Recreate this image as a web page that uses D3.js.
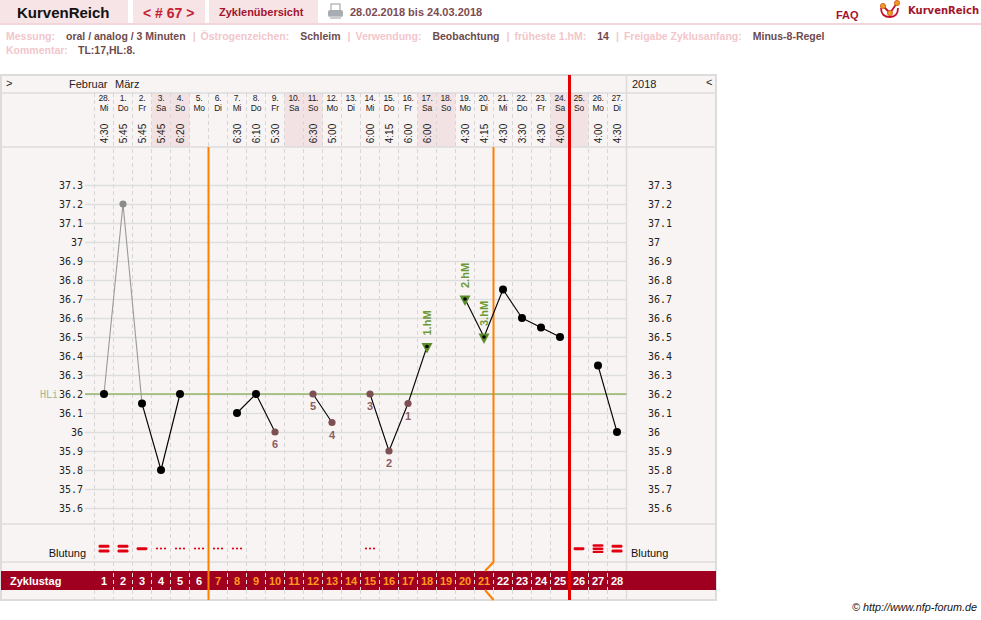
<!DOCTYPE html>
<html>
<head>
<meta charset="utf-8">
<script src="https://cdn.jsdelivr.net/npm/d3@7"></script>
<style>
body { margin: 0; background: #fff; }
svg { display: block; font-family: "Liberation Sans", Arial, sans-serif; }
</style>
</head>
<body>
<div class="kurve"></div>
<script>
// Zyklustage und Kopfzeilen
const cycleDays = [1,2,3,4,5,6,7,8,9,10,11,12,13,14,15,16,17,18,19,20,21,22,23,24,25,26,27,28];
const dates = ["28.","1.","2.","3.","4.","5.","6.","7.","8.","9.","10.","11.","12.","13.","14.","15.","16.","17.","18.","19.","20.","21.","22.","23.","24.","25.","26.","27."];
const weekdays = ["Mi","Do","Fr","Sa","So","Mo","Di","Mi","Do","Fr","Sa","So","Mo","Di","Mi","Do","Fr","Sa","So","Mo","Di","Mi","Do","Fr","Sa","So","Mo","Di"];
const times = ["4:30","5:45","5:45","5:45","6:20","","","6:30","6:10","5:30","","6:30","5:00","","6:00","4:15","6:00","6:00","","4:30","4:15","4:30","3:30","4:30","4:00","","4:00","4:30"];
const monthNames = ["Februar", "März"];
const monthStartDay = [1, 2];

// Temperaturen (null = keine Messung)
const temps = [36.2, 37.2, 36.15, 35.8, 36.2, null, null, 36.1, 36.2, 36.0, null, 36.2, 36.05, null, 36.2, 35.9, 36.15, 36.45, null, 36.7, 36.5, 36.75, 36.6, 36.55, 36.5, null, 36.35, 36.0];
// n = normal, x = ausgeklammert, c = Tieflage gezaehlt, h = hohe Messung
const tempKind = ["n","x","n","n","n","","","n","n","c","","c","c","","c","c","c","h","","h","h","n","n","n","n","","n","n"];
const countLabels = ["","","","","","","","","","6","","5","4","","3","2","1","","","","","","","","","","",""];
const hmLabels = ["","","","","","","","","","","","","","","","","","1.hM","","2.hM","3.hM","","","","","","",""];
// Blutung: 1-3 = Staerke, s = Schmierblutung
const bleeding = ["2","2","1","s","s","s","s","s","","","","","","","s","","","","","","","","","","","1","3","2"];

const yTicks = [35.6,35.7,35.8,35.9,36.0,36.1,36.2,36.3,36.4,36.5,36.6,36.7,36.8,36.9,37.0,37.1,37.2,37.3];
const coverline = 36.2;
const fertileFrom = 7, fertileTo = 21, cycleEnd = 25;

const infoLabels = ["Messung:", "Östrogenzeichen:", "Verwendung:", "früheste 1.hM:", "Freigabe Zyklusanfang:"];
const infoValues = ["oral / analog / 3 Minuten", "Schleim", "Beobachtung", "14", "Minus-8-Regel"];

const width = 981, height = 620;
const fr = { left: 1, right: 716, top: 75, month: 93, head: 147, plot: 524, bleed: 562, bandTop: 571, bandBottom: 590, bottom: 600 };

const svg = d3.select("div.kurve")
    .append("svg")
    .attr("width", width)
    .attr("height", height);

// ---- Kopfbereich ----
const headCells = [[0, 128], [133, 205], [209, 318]];
svg.append("g").selectAll("rect")
    .data(headCells)
    .join("rect")
      .attr("x", d => d[0]).attr("y", 0)
      .attr("width", d => d[1] - d[0]).attr("height", 23)
      .attr("fill", "#f6e4e6");
svg.append("rect").attr("x", 0).attr("y", 23).attr("width", width).attr("height", 2).attr("fill", "#f3d6d9");

svg.append("text").attr("x", 17).attr("y", 18).text("KurvenReich")
    .style("font-size", "15px").style("font-weight", "bold").attr("fill", "#111");
svg.append("text").attr("x", 143).attr("y", 18).text("< # 67 >")
    .style("font-size", "14px").style("font-weight", "bold").attr("fill", "#c42231");
svg.append("text").attr("x", 219).attr("y", 16).text("Zyklenübersicht")
    .style("font-size", "11px").style("font-weight", "bold").attr("fill", "#a3142e");

// Drucker-Symbol
const pr = svg.append("g").attr("transform", "translate(328,4)");
pr.append("rect").attr("x", 3).attr("y", 0).attr("width", 9).attr("height", 7).attr("fill", "#fff").attr("stroke", "#999");
pr.append("rect").attr("x", 0).attr("y", 6).attr("width", 15).attr("height", 7).attr("rx", 2).attr("fill", "#a7adb3");
pr.append("rect").attr("x", 2).attr("y", 12).attr("width", 11).attr("height", 3).attr("fill", "#c9cdd1");
svg.append("text").attr("x", 350).attr("y", 16).text("28.02.2018 bis 24.03.2018")
    .style("font-size", "11px").style("font-weight", "bold").attr("fill", "#7d4b52");

svg.append("text").attr("x", 836).attr("y", 19).text("FAQ")
    .style("font-size", "11px").style("font-weight", "bold").attr("fill", "#a3142e");
// Logo
const logo = svg.append("g");
logo.append("path").attr("d", "M881,8 Q881,17 890,17 Q898,17 898,8").attr("fill", "none").attr("stroke", "#c4102e").attr("stroke-width", 1.8);
logo.append("path").attr("d", "M883,6 L890,13 L897,3").attr("fill", "none").attr("stroke", "#c4102e").attr("stroke-width", 1.8);
logo.selectAll("circle").data([[883, 6], [890, 13], [897, 3]]).join("circle")
    .attr("cx", d => d[0]).attr("cy", d => d[1]).attr("r", 2.6)
    .attr("fill", "#f39a1e").attr("stroke", "#d0541a").attr("stroke-width", 0.8);
svg.append("text").attr("x", 908).attr("y", 14).text("KurvenReich")
    .style("font-family", "'DejaVu Sans', sans-serif").style("font-size", "10px").style("font-weight", "bold").attr("fill", "#a3142e");

// Infozeile
let cursor = 6;
const info = svg.append("g").style("font-size", "10.5px").style("font-weight", "bold");
infoLabels.forEach((lab, i) => {
    if (i > 0) {
        const bar = info.append("text").attr("x", cursor).attr("y", 40).text("|").attr("fill", "#f2c6cb");
        cursor += bar.node().getComputedTextLength() + 5;
    }
    const l = info.append("text").attr("x", cursor).attr("y", 40).text(lab).attr("fill", "#f2c6cb");
    cursor += l.node().getComputedTextLength() + 11;
    const v = info.append("text").attr("x", cursor).attr("y", 40).text(infoValues[i]).attr("fill", "#6e4a4d");
    cursor += v.node().getComputedTextLength() + 7;
});
info.append("text").attr("x", 6).attr("y", 54).text("Kommentar:").attr("fill", "#f2c6cb");
info.append("text").attr("x", 78).attr("y", 54).text("TL:17,HL:8.").attr("fill", "#6e4a4d");

// ---- Kurve ----
const x = d3.scaleBand()
    .domain(cycleDays)
    .range([94.5, 626.5]);
const cx = d => x(d) + x.bandwidth() / 2;
const y = d3.scaleLinear()
    .domain([35.6, 37.3])
    .range([508, 185]);

const data = cycleDays.map((d, i) => ({
    day: d, date: dates[i], wd: weekdays[i], time: times[i], temp: temps[i],
    kind: tempKind[i], count: countLabels[i], hm: hmLabels[i], bleed: bleeding[i]
}));

svg.append("rect")
    .attr("x", fr.left).attr("y", fr.top)
    .attr("width", fr.right - fr.left).attr("height", fr.bottom - fr.top)
    .attr("fill", "#f9f4f4").attr("stroke", "#dcdcdc").attr("stroke-width", 2);

// Wochenende im Kopf
svg.append("g").selectAll("rect")
    .data(data.filter(d => d.wd === "Sa" || d.wd === "So"))
    .join("rect")
      .attr("x", d => x(d.day)).attr("y", fr.month)
      .attr("width", x.bandwidth()).attr("height", fr.head - fr.month)
      .attr("fill", "#f3e2e4");

// Zeilenlinien
svg.append("g").selectAll("line")
    .data([fr.month, fr.head, fr.plot, fr.bleed])
    .join("line")
      .attr("x1", fr.left).attr("x2", fr.right)
      .attr("y1", d => d).attr("y2", d => d)
      .attr("stroke", "#dcdcdc").attr("stroke-width", 1.5);
svg.append("line")
    .attr("x1", 626.5).attr("x2", 626.5).attr("y1", fr.top).attr("y2", fr.bottom)
    .attr("stroke", "#dcdcdc").attr("stroke-width", 1.5);

// gestrichelte Spaltenlinien
svg.append("g").selectAll("line")
    .data(cycleDays)
    .join("line")
      .attr("x1", d => x(d)).attr("x2", d => x(d))
      .attr("y1", fr.month).attr("y2", fr.bottom)
      .attr("stroke", "#d6d6d6").attr("stroke-dasharray", "4,3");

// waagrechte Temperatur-Gitterlinien
svg.append("g")
    .attr("transform", "translate(85,0)")
    .call(d3.axisRight(y).tickValues(yTicks).tickSize(626.5 - 85).tickFormat(""))
    .call(g => g.select(".domain").remove())
    .call(g => g.selectAll(".tick line").attr("stroke", "#dedede").attr("stroke-width", 1.5));

// Achsenbeschriftung links und rechts
const yFmt = d3.format("~g");
svg.append("g")
    .attr("transform", "translate(84,0)")
    .call(d3.axisLeft(y).tickValues(yTicks).tickSize(0).tickPadding(1).tickFormat(yFmt))
    .call(g => g.select(".domain").remove())
    .call(g => g.selectAll("text").style("font-family", "'DejaVu Sans Mono', monospace").style("font-size", "10px").attr("fill", "#222"));
svg.append("g")
    .attr("transform", "translate(647,0)")
    .call(d3.axisRight(y).tickValues(yTicks).tickSize(0).tickPadding(1).tickFormat(yFmt))
    .call(g => g.select(".domain").remove())
    .call(g => g.selectAll("text").style("font-family", "'DejaVu Sans Mono', monospace").style("font-size", "10px").attr("fill", "#222"));

// Hilfslinie
svg.append("line")
    .attr("x1", 85).attr("x2", 626.5)
    .attr("y1", y(coverline)).attr("y2", y(coverline))
    .attr("stroke", "#6a9b2c").attr("stroke-width", 1.2);
svg.append("text").attr("x", 40).attr("y", y(coverline)).attr("dy", "0.35em").text("HLi")
    .style("font-family", "'DejaVu Sans Mono', monospace").style("font-size", "10px").attr("fill", "#a3b793");

// Zyklustag-Band
svg.append("rect")
    .attr("x", fr.left).attr("y", fr.bandTop)
    .attr("width", fr.right - fr.left).attr("height", fr.bandBottom - fr.bandTop)
    .attr("fill", "#a0001f");
svg.append("g").selectAll("line")
    .data(cycleDays.slice(1))
    .join("line")
      .attr("x1", d => x(d)).attr("x2", d => x(d))
      .attr("y1", fr.bandTop + 2).attr("y2", fr.bandBottom)
      .attr("stroke", "#f2d6da").attr("stroke-dasharray", "4,3");
svg.append("text").attr("x", 10).attr("y", 585).text("Zyklustag")
    .style("font-size", "11px").style("font-weight", "bold").attr("fill", "#fff");
svg.append("g").selectAll("text")
    .data(cycleDays)
    .join("text")
      .attr("x", d => cx(d)).attr("y", 585)
      .attr("text-anchor", "middle")
      .style("font-size", "11px").style("font-weight", "bold")
      .attr("fill", d => d >= fertileFrom && d <= fertileTo ? "#ff9a1c" : "#fff")
      .text(d => d);

// Monatszeile
svg.append("text").attr("x", 6).attr("y", 87).text(">").style("font-size", "11px").attr("fill", "#222");
svg.append("g").selectAll("text")
    .data(monthNames)
    .join("text")
      .attr("x", (d, i) => i === 0 ? x(monthStartDay[i]) + 13 : x(monthStartDay[i]) + 1.5)
      .attr("y", 88)
      .attr("text-anchor", (d, i) => i === 0 ? "end" : "start")
      .style("font-size", "11px").attr("fill", "#222")
      .text(d => d);
svg.append("text").attr("x", 632).attr("y", 88).text("2018").style("font-size", "11px").attr("fill", "#222");
svg.append("text").attr("x", 706).attr("y", 86).text("<").style("font-size", "11px").attr("fill", "#222");

// Datum / Wochentag / Uhrzeit
const head = svg.append("g").style("font-size", "8.5px").attr("fill", "#222").attr("text-anchor", "middle").style("letter-spacing", "-0.3px");
head.selectAll("text.dt").data(data).join("text").attr("class", "dt")
    .attr("x", d => cx(d.day)).attr("y", 101).text(d => d.date);
head.selectAll("text.wd").data(data).join("text").attr("class", "wd")
    .attr("x", d => cx(d.day)).attr("y", 111).text(d => d.wd);
svg.append("g").selectAll("text")
    .data(data.filter(d => d.time))
    .join("text")
      .attr("transform", d => `translate(${cx(d.day)},133.5) rotate(-90)`)
      .attr("dy", "0.35em")
      .attr("text-anchor", "middle")
      .style("font-size", "10px").attr("fill", "#222")
      .text(d => d.time);

// Blutung
svg.append("text").attr("x", 86).attr("y", 557).attr("text-anchor", "end").text("Blutung").style("font-size", "11px").attr("fill", "#111");
svg.append("text").attr("x", 631).attr("y", 557).text("Blutung").style("font-size", "11px").attr("fill", "#111");
const bars = [];
const dots = [];
data.forEach(d => {
    if (d.bleed === "s") {
        [-4, 0, 4].forEach(o => dots.push({ x: cx(d.day) + o, y: 548.5 }));
    } else if (d.bleed) {
        const n = +d.bleed;
        const step = n === 3 ? 3.2 : 4.8;
        for (let k = 0; k < n; k++) bars.push({ x: cx(d.day), y: 548.7 + (k - (n - 1) / 2) * step, h: n === 3 ? 2.4 : 3 });
    }
});
svg.append("g").selectAll("rect")
    .data(bars)
    .join("rect")
      .attr("x", d => d.x - 5.5).attr("y", d => d.y - d.h / 2)
      .attr("width", 11).attr("height", d => d.h).attr("rx", 1.4)
      .attr("fill", "#e00012");
svg.append("g").selectAll("circle")
    .data(dots)
    .join("circle")
      .attr("cx", d => d.x).attr("cy", d => d.y).attr("r", 1.1)
      .attr("fill", "#e00012");

// senkrechte Markierungen
const xAfter = d => x(d) + x.bandwidth();
svg.append("line")
    .attr("x1", xAfter(fertileFrom - 1)).attr("x2", xAfter(fertileFrom - 1))
    .attr("y1", fr.head).attr("y2", fr.bottom)
    .attr("stroke", "#ff8000").attr("stroke-width", 2);
const kink = d3.line();
const xe = xAfter(fertileTo);
svg.append("path")
    .attr("d", kink([[xe, fr.head], [xe, fr.bleed], [xe - 8.5, fr.bandTop]]))
    .attr("fill", "none").attr("stroke", "#ff8000").attr("stroke-width", 2);
svg.append("path")
    .attr("d", kink([[xe - 8.5, fr.bandBottom], [xe, fr.bottom]]))
    .attr("fill", "none").attr("stroke", "#ff8000").attr("stroke-width", 2);
svg.append("line")
    .attr("x1", xAfter(cycleEnd)).attr("x2", xAfter(cycleEnd))
    .attr("y1", fr.top).attr("y2", fr.bottom)
    .attr("stroke", "#e30000").attr("stroke-width", 3);

// Temperaturkurve (Segmente zwischen aufeinanderfolgenden Messungen)
const segs = [];
for (let i = 1; i < data.length; i++) {
    const a = data[i - 1], b = data[i];
    if (a.temp != null && b.temp != null) segs.push({ a, b, grey: a.kind === "x" || b.kind === "x" });
}
svg.append("g").selectAll("line")
    .data(segs)
    .join("line")
      .attr("x1", d => cx(d.a.day)).attr("y1", d => y(d.a.temp))
      .attr("x2", d => cx(d.b.day)).attr("y2", d => y(d.b.temp))
      .attr("stroke", d => d.grey ? "#999" : "#000").attr("stroke-width", 1.1);

const pts = data.filter(d => d.temp != null);
svg.append("g").selectAll("circle")
    .data(pts.filter(d => d.kind !== "h"))
    .join("circle")
      .attr("cx", d => cx(d.day)).attr("cy", d => y(d.temp))
      .attr("r", d => d.kind === "n" ? 4 : 3.6)
      .attr("fill", d => d.kind === "n" ? "#000" : d.kind === "x" ? "#8c8c8c" : "#7d5053");

// hohe Messungen
const hm = pts.filter(d => d.kind === "h");
svg.append("g").selectAll("path")
    .data(hm)
    .join("path")
      .attr("transform", d => `translate(${cx(d.day)},${y(d.temp)})`)
      .attr("d", "M-5.5,-3.5 L5.5,-3.5 L0,7 Z")
      .attr("fill", "#5b8c2c");
svg.append("g").selectAll("circle")
    .data(hm)
    .join("circle")
      .attr("cx", d => cx(d.day)).attr("cy", d => y(d.temp)).attr("r", 1.8)
      .attr("fill", "#000");
svg.append("g").selectAll("text")
    .data(hm)
    .join("text")
      .attr("transform", d => `translate(${cx(d.day)},${y(d.temp) - 11}) rotate(-90)`)
      .attr("dy", "0.35em")
      .style("font-size", "11px").style("font-weight", "bold")
      .attr("fill", "#6a9a36")
      .text(d => d.hm);

// Zaehlung der Tieflagen
svg.append("g").selectAll("text")
    .data(pts.filter(d => d.count))
    .join("text")
      .attr("x", d => cx(d.day)).attr("y", d => y(d.temp) + 16)
      .attr("text-anchor", "middle")
      .style("font-size", "11px").style("font-weight", "bold")
      .attr("fill", "#8a5e62")
      .text(d => d.count);

svg.append("text").attr("x", 977).attr("y", 611).attr("text-anchor", "end")
    .text("© http://www.nfp-forum.de")
    .style("font-size", "10.8px").style("font-style", "italic").attr("fill", "#111");
</script>
</body>
</html>
